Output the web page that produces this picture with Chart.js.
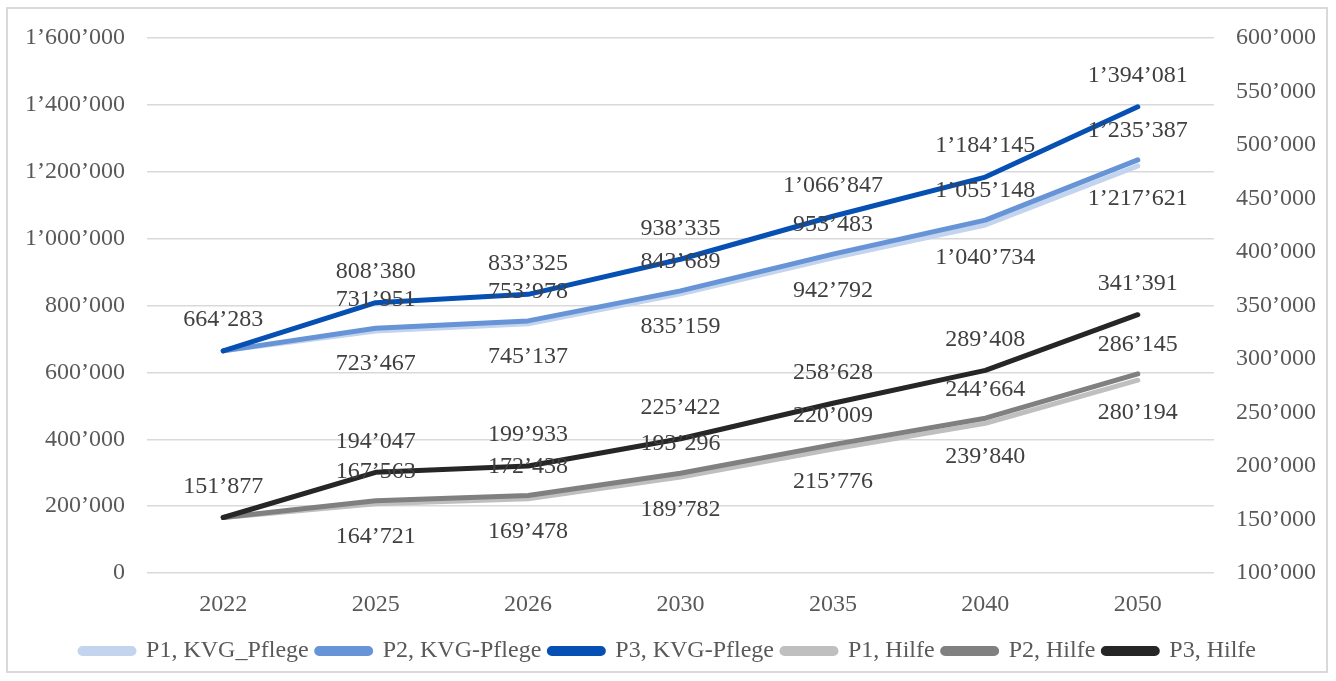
<!DOCTYPE html>
<html>
<head>
<meta charset="utf-8">
<script src="https://cdn.jsdelivr.net/npm/chart.js@4/dist/chart.umd.min.js"></script>
<style>
  html, body { margin: 0; padding: 0; background: #fff; }
  #wrap { position: relative; width: 1336px; height: 681px; }
  #frame { position: absolute; left: 6px; top: 7px; width: 1322px; height: 666px;
           border: 2px solid #d9d9d9; box-sizing: border-box; }
  canvas { position: absolute; left: 0; top: 0; }
</style>
</head>
<body>
<div id="wrap">
  <div id="frame"></div>
  <canvas id="chart" width="1336" height="681"></canvas>
</div>
<script>
// values
const YEARS = ['2022', '2025', '2026', '2030', '2035', '2040', '2050']

const P1_KVG = [664283, 723467, 745137, 835159, 942792, 1040734, 1217621]
const P2_KVG = [664283, 731951, 753978, 843689, 953483, 1055148, 1235387]
const P3_KVG = [664283, 808380, 833325, 938335, 1066847, 1184145, 1394081]

const P1_HILFE = [151877, 164721, 169478, 189782, 215776, 239840, 280194]
const P2_HILFE = [151877, 167563, 172438, 193296, 220009, 244664, 286145]
const P3_HILFE = [151877, 194047, 199933, 225422, 258628, 289408, 341391]

const fmt = v => String(Math.round(v)).replace(/\B(?=(\d{3})+(?!\d))/g, '\u2019')

const FONT = "'Liberation Serif', 'Times New Roman', serif"

// simple inline value labels (no datalabels plugin available offline)
const valueLabels = {
  id: 'valueLabels',
  afterDatasetsDraw(chart) {
    const ctx = chart.ctx
    ctx.save()
    ctx.font = `24px ${FONT}`
    ctx.fillStyle = '#404040'
    ctx.textAlign = 'center'
    ctx.textBaseline = 'middle'
    chart.data.datasets.forEach((ds, i) => {
      const meta = chart.getDatasetMeta(i)
      meta.data.forEach((pt, j) => {
        if (j === 0 && !ds.firstLabel) return
        ctx.fillText(fmt(ds.data[j]), pt.x, pt.y + ds.labelOffset)
      })
    })
    ctx.restore()
  }
}

const line = (label, data, color, axis, order, labelOffset, firstLabel = false) => ({
  label, data, borderColor: color, backgroundColor: color, yAxisID: axis, order,
  borderWidth: 5, pointRadius: 0, pointHoverRadius: 0, tension: 0,
  borderCapStyle: 'round', borderJoinStyle: 'round', labelOffset, firstLabel,
})

new Chart(document.getElementById('chart'), {
  type: 'line',
  data: {
    labels: YEARS,
    datasets: [
      line('P1, KVG_Pflege', P1_KVG, '#c3d4ee', 'y', 3, 33),
      line('P2, KVG-Pflege', P2_KVG, '#6694d6', 'y', 2, -29),
      line('P3, KVG-Pflege', P3_KVG, '#0650b4', 'y', 1, -31, true),
      line('P1, Hilfe', P1_HILFE, '#bfbfbf', 'y1', 3, 33),
      line('P2, Hilfe', P2_HILFE, '#808080', 'y1', 2, -29),
      line('P3, Hilfe', P3_HILFE, '#262626', 'y1', 1, -31, true),
    ],
  },
  plugins: [valueLabels],
  options: {
    responsive: false, animation: false,
    layout: { padding: { top: 38, bottom: 8, left: 0, right: 0 } },
    plugins: {
      tooltip: { enabled: false },
      legend: {
        position: 'bottom',
        labels: {
          font: { family: FONT, size: 24 }, color: '#595959',
          boxWidth: 54, boxHeight: 5, padding: 8,
          useBorderRadius: true, borderRadius: 2.5,
          sort: (a, b) => a.datasetIndex - b.datasetIndex,
        },
      },
    },
    scales: {
      x: {
        offset: true,
        grid: { display: false }, border: { display: false },
        ticks: { font: { family: FONT, size: 24 }, color: '#595959', padding: 9 },
        afterFit: s => { s.height = 58 },
      },
      y: {
        position: 'left', min: 0, max: 1600000,
        grid: { color: '#d9d9d9', lineWidth: 1.5, drawTicks: false }, border: { display: false },
        ticks: { stepSize: 200000, callback: fmt, font: { family: FONT, size: 24 }, color: '#595959', padding: 22 },
        afterFit: s => { s.width = 147 },
      },
      y1: {
        position: 'right', min: 100000, max: 600000,
        grid: { display: false, drawTicks: false }, border: { display: false },
        ticks: { stepSize: 50000, callback: fmt, font: { family: FONT, size: 24 }, color: '#595959', padding: 22 },
        afterFit: s => { s.width = 122 },
      },
    },
  },
})
</script>
</body>
</html>
